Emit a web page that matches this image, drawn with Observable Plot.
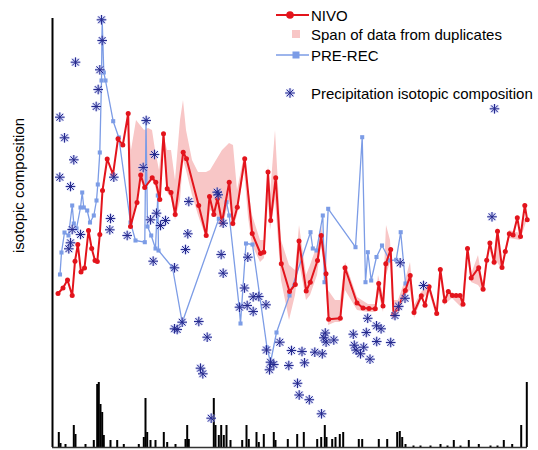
<!DOCTYPE html>
<html><head><meta charset="utf-8">
<script src="https://cdn.jsdelivr.net/npm/d3@7"></script>
<script src="https://cdn.jsdelivr.net/npm/@observablehq/plot@0.6"></script>
<style>
body{margin:0;background:#fff;font-family:"Liberation Sans",Arial,sans-serif;}
#wrap{position:relative;width:538px;height:450px;}
.legend{position:absolute;left:275px;top:0;width:263px;height:110px;font-size:15px;color:#000;}
.row{position:absolute;left:0;height:16px;display:flex;align-items:center;white-space:nowrap;}
.row svg{width:36px;height:16px;flex:none;display:block;}
</style></head><body><div id="wrap"></div>
<script>
// NIVO series: [time, isotopic value]
const nivo = [[5.5,154],[10.5,159.5],[15,167.5],[19.7,152],[22.5,186.3],[25.3,203],[28.5,175.5],[32,179.5],[36,217],[39.2,199],[42.5,187],[44.8,186],[47.3,213],[50,257],[54.7,288.5],[60.5,273],[65.5,308.7],[70.3,302.5],[75.7,334],[78,221],[84.5,245],[88.2,272.5],[92.2,260],[99.7,269.7],[103.3,265.3],[107.3,248],[111,313.7],[114.7,258.7],[118.5,255],[122.7,233],[130.7,295.3],[134,288.7],[146.2,242],[153.7,212],[157,251],[161.3,233],[165,249],[169.5,225],[176.7,265.3],[180.3,224],[184.8,240.3],[192.2,288.7],[199.7,214],[208,194],[211.3,195.3],[215.5,275.5],[218.2,227],[223.2,269.8],[228.8,183.7],[237,156],[242.8,163],[246.5,206.5],[253.7,156.5],[257.8,165.3],[265,187],[268.7,212],[273.5,173.7],[276.2,128.2],[287.8,129.2],[292.5,179.8],[304.5,144.5],[310.5,139.5],[316.5,139],[322.8,138.7],[326.2,164],[330.5,141.5],[333.3,183.7],[338.2,198],[341,133],[345.3,139],[352.8,157],[357.7,172],[361.5,135],[368.8,151.7],[372.5,142.3],[376.6,160.8],[384.2,134],[387.8,178],[392.2,146.5],[395.8,156],[399.9,152],[403.6,152],[407.5,152],[410.5,143.3],[415,199],[418.7,169.5],[426.2,179.8],[430.6,158.3],[434.2,187.3],[437.4,204.5],[441.6,185.3],[445,216.2],[449.5,180],[452.8,196],[456.8,213.8],[460.6,212.4],[464.8,229.7],[468,211],[472.3,242],[474.7,227.7]];

// Span of data from duplicates: [time, low, high]
const span = [[75,334,334],[79,221,297],[84,242,327],[88,269,322],[92,257,317],[96,262,319],[100,267,317],[103,262,297],[107,242,277],[111,307,314],[115,255,297],[119,249,297],[123,227,267],[128,247,327],[131,287,347],[134,277,317],[140,252,287],[146,232,275],[154,209,275],[158,237,277],[164,232,287],[170,219,297],[177,247,304],[181,219,302],[185,232,257],[192,277,292],[196,230,260],[200,202,232],[208,185,207],[212,189,207],[216,247,282],[218,217,252],[223,247,317],[229,167,207],[237,127,182],[243,152,177],[247,185,222],[254,147,172],[258,152,182],[265,172,202],[269,202,222],[274,162,192],[276,122,157],[283,125,147],[288,125,147],[293,157,185],[305,137,150],[316,135,143],[323,135,143],[326,155,172],[331,135,152],[334,172,222],[338,185,207],[341,127,147],[346,132,147],[353,152,167],[358,157,185],[362,129,142],[369,147,155],[377,155,164],[384,131,137],[388,172,181],[392,142,150],[400,149,155],[410,139,147],[415,192,202],[419,165,173],[426,162,192],[431,155,162],[437,199,207],[442,181,189],[445,185,220],[450,177,183],[457,209,217],[468,207,214],[474,225,231]];

// PRE-REC series: [time, isotopic value]
const preRec = [[7.5,173],[9,195],[12,215],[16,212],[19.7,242],[21.3,224],[24,219],[28,240],[29.7,255],[31.3,240],[34.7,237],[37.5,225],[41.3,232],[44,247],[45.3,263],[47.3,295],[49,367],[49.4,407],[49.7,427],[51.3,375],[53,367],[60.7,326.3],[66.3,310],[78,225],[83,207],[92.3,205.3],[93.5,327],[95,221],[98.7,212],[103,199],[105.3,252],[106,197],[120,180],[129.7,125],[166.3,228.7],[170,227],[174,245.3],[176.7,232],[186.5,142],[188,124],[193.5,204],[200,203],[214.5,100],[218,85],[224,115],[237,152],[258,215.3],[260.3,199],[264,197],[270.3,232],[272,165.3],[275.7,238.7],[303,200.3],[309.7,310.3],[313,165.3],[315.3,195.3],[318.7,167],[324,190.5],[329.5,202],[337.3,187],[343.7,187.7],[348.2,215.3],[353,164]];

// Precipitation isotopic composition: [time, isotopic value]
const precipIso = [[49,427.7],[49.7,407],[23,385.3],[47.3,377.7],[45.7,358],[43.7,341],[7.3,330.3],[93.7,327],[12,309.7],[21.3,287.7],[102,293],[90.7,280],[7.3,270.3],[18,261],[61.3,270.3],[58,229],[57.3,217.7],[74.7,212],[19.7,218],[28,213],[16.3,198.7],[18,204.7],[98,227.7],[104,234.3],[113,227],[108,222],[100.7,186.3],[122,179.7],[122,118.7],[133,198],[135.3,213.7],[136.3,246],[129.7,125.3],[124.7,118],[146.3,126],[154.7,110.3],[148,79.3],[150.3,73.7],[158.7,29.3],[164.7,255.3],[165.7,252.7],[170.7,224.3],[168.7,193],[170.7,174.3],[187,140.3],[192,159.5],[195.3,190.3],[194.7,142],[200.7,150.7],[200.7,136],[206.3,151],[213.5,142.7],[214,97.5],[218,85.3],[217,77.7],[221.3,83],[227.3,105.3],[236.3,82],[239,97],[249.5,96],[252,84.7],[262.3,95.3],[269.8,93.7],[272.8,114.5],[271.3,109.7],[273.6,105.4],[281.3,107.5],[300.8,113.3],[301.8,102.3],[303.6,97.4],[308,93.7],[311.2,100.3],[313.8,115],[315.2,129.2],[317.5,88.3],[324,121.7],[328.6,118.7],[324.2,106],[338.2,105],[342.5,132],[346.2,141.1],[352.5,149.2],[347.7,184.7],[371,162],[245,64.2],[246.7,52.5],[256.8,47.8],[269,33.7],[442,338.7],[439.5,230.7]];

// Precipitation amount: [time, amount]
const precipAmount = [[6.3,15],[8,4],[13,3],[21.3,22],[23,13],[33,3],[41.3,7],[44.7,63],[46.3,65],[48,43],[49.7,35],[51.3,12],[58,7],[64.7,7],[71.3,3],[86.3,3],[91.3,10],[93,49],[94.7,15],[98,7],[103,7],[111.3,15],[114.7,5],[123,3],[133,8],[134.7,22],[136.3,8],[161.3,49],[163,22],[166.3,12],[168.7,22],[171.3,12],[174,22],[178,7],[189.7,7],[194,22],[196.3,8],[204,15],[206.3,5],[211.3,13],[221.3,15],[223,7],[235.3,8],[244.7,13],[251.3,15],[264.7,8],[268.7,10],[272.3,22],[274,10],[279.7,8],[283,10],[287.3,13],[290.7,15],[306.3,8],[309.7,8],[326.3,8],[334.7,8],[344.7,15],[347.3,16],[349.7,10],[353,3],[361,1.5],[368,1.5],[378,1.5],[388,3],[395,1.5],[401.3,7],[408,1.5],[416.3,7],[426.3,3],[438,1.5],[445,1.5],[451.3,7],[459.7,3],[468.7,22],[474.3,65]];

const legendLabels = ["NIVO", "Span of data from duplicates", "PRE-REC", "Precipitation isotopic composition"];
const yLabel = "isotopic composition";

const RED = "#e3141c", BLUE = "#7c9ce6", PINK = "#f8c6c6", NAVY = "#262a8e";

const star8 = {
  draw(ctx, size) {
    const r = Math.sqrt(size / Math.PI), d = r * Math.SQRT1_2;
    ctx.moveTo(-r, 0); ctx.lineTo(r, 0);
    ctx.moveTo(0, -r); ctx.lineTo(0, r);
    ctx.moveTo(-d, -d); ctx.lineTo(d, d);
    ctx.moveTo(-d, d); ctx.lineTo(d, -d);
  }
};

const X = d => d[0], Y = d => d[1];

const chart = Plot.plot({
  width: 538, height: 450,
  marginLeft: 52, marginRight: 11, marginTop: 18, marginBottom: 3,
  x: {domain: [0, 475], axis: null},
  y: {domain: [0, 429], axis: null},
  style: {fontFamily: '"Liberation Sans", Arial, sans-serif', background: "white", overflow: "visible"},
  marks: [
    Plot.areaY(span, {x: X, y1: d => d[1], y2: d => d[2], fill: PINK}),
    Plot.ruleX(precipAmount, {x: X, y1: 0, y2: Y, stroke: "#000", strokeWidth: 2}),
    Plot.line(preRec, {x: X, y: Y, stroke: BLUE, strokeWidth: 1.3}),
    Plot.dot(preRec, {x: X, y: Y, symbol: "square", r: 2.3, fill: BLUE}),
    Plot.line(nivo, {x: X, y: Y, stroke: RED, strokeWidth: 2}),
    Plot.dot(nivo, {x: X, y: Y, r: 2.5, fill: RED}),
    Plot.dot(precipIso, {x: X, y: Y, symbol: star8, r: 4.8, stroke: "#aab0ee", strokeWidth: 2.6, strokeOpacity: 0.55, fill: "none"}),
    Plot.dot(precipIso, {x: X, y: Y, symbol: star8, r: 4.8, stroke: NAVY, strokeWidth: 1, fill: "none"}),
    Plot.ruleX([0], {stroke: "#000", strokeWidth: 2}),
    Plot.ruleY([0], {stroke: "#333", strokeWidth: 1.5}),
    Plot.text([yLabel], {frameAnchor: "left", rotate: -90, dx: -33, dy: 20, fontSize: 15, fill: "#000"})
  ]
});

const wrap = document.getElementById("wrap");
wrap.appendChild(chart);

// Legend overlay
const legend = document.createElement("div");
legend.className = "legend";
const starPath = (cx, cy, r) => {
  const d = r * Math.SQRT1_2;
  return `M${cx-r},${cy}L${cx+r},${cy}M${cx},${cy-r}L${cx},${cy+r}M${cx-d},${cy-d}L${cx+d},${cy+d}M${cx-d},${cy+d}L${cx+d},${cy-d}`;
};
const swatches = [
  `<line x1="1" x2="34" y1="8" y2="8" stroke="${RED}" stroke-width="2"/><circle cx="15" cy="8" r="3.8" fill="${RED}"/>`,
  `<rect x="17" y="4" width="8" height="8" fill="${PINK}"/>`,
  `<line x1="1" x2="34" y1="8" y2="8" stroke="${BLUE}" stroke-width="1.3"/><rect x="17.5" y="4.5" width="7" height="7" fill="${BLUE}"/>`,
  `<path d="${starPath(15, 8, 4.8)}" stroke="#aab0ee" stroke-width="2.6" stroke-opacity="0.55" fill="none"/><path d="${starPath(15, 8, 4.8)}" stroke="${NAVY}" stroke-width="1" fill="none"/>`
];
const tops = [7, 26, 47, 85];
legendLabels.forEach((lab, i) => {
  const row = document.createElement("div");
  row.className = "row";
  row.style.top = tops[i] + "px";
  row.innerHTML = `<svg viewBox="0 0 36 16">${swatches[i]}</svg><span>${lab}</span>`;
  legend.appendChild(row);
});
wrap.appendChild(legend);
</script>
</body></html>
